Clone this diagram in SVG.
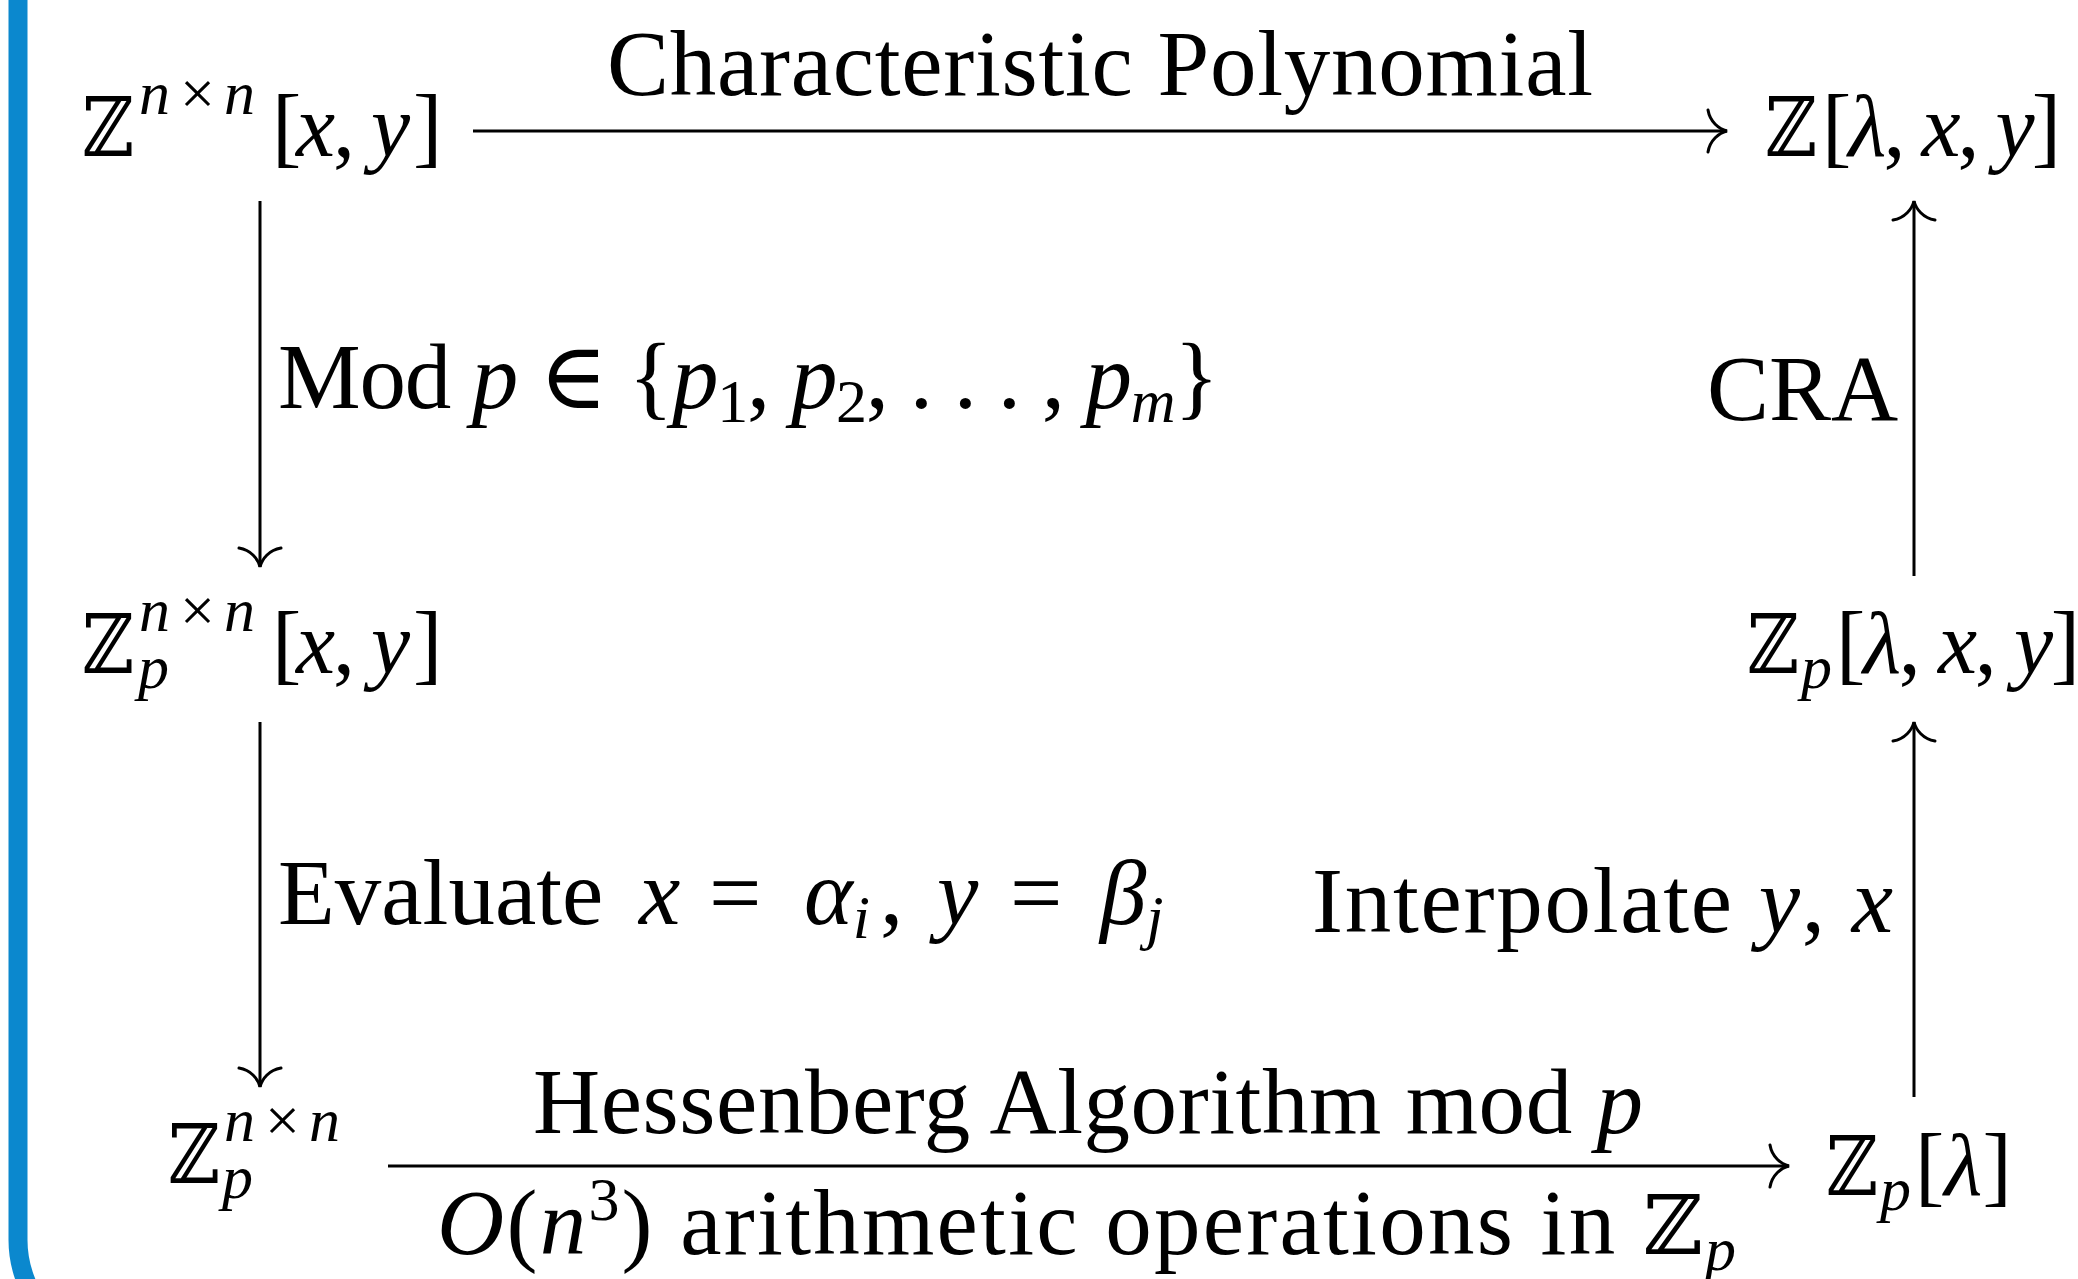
<svg xmlns="http://www.w3.org/2000/svg" width="2078" height="1279" viewBox="0 0 2078 1279">
<style>
  text { font-family: "Liberation Serif", "DejaVu Serif", serif; fill: #000; }
  .m { font-size: 88px; }
  .lb { font-size: 93px; }
  .sc { font-size: 62px; }
  .it { font-style: italic; }
  .bb { font-family: "DejaVu Serif", "DejaVu Sans", serif; font-size: 82px; }
  .edge { stroke: #000; stroke-width: 3; fill: none; }
</style>
<defs>
  <marker id="to" viewBox="-26 -28 32 56" refX="0" refY="0" markerWidth="32" markerHeight="56" markerUnits="userSpaceOnUse" orient="auto">
    <path d="M-19,-21 C-17,-9 -8,-2 0,0 C-8,2 -17,9 -19,21" fill="none" stroke="#000" stroke-width="3" stroke-linecap="round"/>
  </marker>
</defs>
<rect x="0" y="0" width="2078" height="1279" fill="#fff"/>
<path d="M18,-20 L18,1240 A110 110 0 0 0 128 1350" fill="none" stroke="#0B88CE" stroke-width="19"/>

<g id="connectors">
  <line class="edge" x1="473" y1="131" x2="1727" y2="131" marker-end="url(#to)"/>
  <line class="edge" x1="260" y1="201" x2="260" y2="567" marker-end="url(#to)"/>
  <line class="edge" x1="1914" y1="576" x2="1914" y2="201" marker-end="url(#to)"/>
  <line class="edge" x1="260" y1="722" x2="260" y2="1087" marker-end="url(#to)"/>
  <line class="edge" x1="1914" y1="1097" x2="1914" y2="722" marker-end="url(#to)"/>
  <line class="edge" x1="388" y1="1166" x2="1789" y2="1166" marker-end="url(#to)"/>
  <text class="lb" x="1100" y="95" text-anchor="middle" textLength="986">Characteristic Polynomial</text>
  <text class="lb" x="278" y="408" textLength="941">Mod <tspan class="it">p</tspan> ∈ {<tspan class="it">p</tspan><tspan class="sc" dy="14">1</tspan><tspan dy="-14">, </tspan><tspan class="it">p</tspan><tspan class="sc" dy="14">2</tspan><tspan dy="-14">, . . . , </tspan><tspan class="it">p</tspan><tspan class="sc it" dy="14">m</tspan><tspan dy="-14">}</tspan></text>
  <text class="lb" x="1707" y="420">CRA</text>
  <text class="lb" y="924"><tspan x="278">Evaluate</tspan><tspan class="it" x="639">x</tspan><tspan x="709">=</tspan><tspan class="it" x="804">α</tspan><tspan class="sc it" dy="14">i</tspan><tspan x="880" dy="-14">,</tspan><tspan class="it" x="937">y</tspan><tspan x="1010">=</tspan><tspan class="it" x="1100">β</tspan><tspan class="sc it" dy="14">j</tspan></text>
  <text class="lb" x="1312" y="932" textLength="581">Interpolate <tspan class="it">y</tspan>, <tspan class="it">x</tspan></text>
  <text class="lb" x="1088" y="1133" text-anchor="middle" textLength="1110">Hessenberg Algorithm mod <tspan class="it">p</tspan></text>
  <text class="lb" x="437" y="1254" textLength="1299"><tspan class="it">O</tspan>(<tspan class="it">n</tspan><tspan class="sc" dy="-34">3</tspan><tspan dy="34">) arithmetic operations in </tspan><tspan class="bb" font-size="93">ℤ</tspan><tspan class="sc it" dy="16">p</tspan></text>
</g>

<g id="n-top-left">
  <text class="bb" x="82" y="156" textLength="52" lengthAdjust="spacingAndGlyphs">ℤ</text>
  <text class="sc" y="114"><tspan class="it" x="139">n</tspan><tspan x="180">×</tspan><tspan class="it" x="224">n</tspan></text>
  <text class="m" y="156"><tspan x="272">[</tspan><tspan class="it" x="296">x</tspan><tspan x="333">,</tspan><tspan class="it" x="371">y</tspan><tspan x="413">]</tspan></text>
</g>

<g id="n-top-right">
  <text class="bb" x="1765" y="156" textLength="52" lengthAdjust="spacingAndGlyphs">ℤ</text>
  <text class="m" x="1822" y="156" textLength="239">[<tspan class="it">λ</tspan>, <tspan class="it">x</tspan>, <tspan class="it">y</tspan>]</text>
</g>

<g id="n-mid-left">
  <text class="bb" x="82" y="673" textLength="52" lengthAdjust="spacingAndGlyphs">ℤ</text>
  <text class="sc" y="631"><tspan class="it" x="139">n</tspan><tspan x="180">×</tspan><tspan class="it" x="224">n</tspan></text>
  <text class="sc it" x="138" y="688">p</text>
  <text class="m" y="673"><tspan x="272">[</tspan><tspan class="it" x="296">x</tspan><tspan x="333">,</tspan><tspan class="it" x="371">y</tspan><tspan x="413">]</tspan></text>
</g>

<g id="n-mid-right">
  <text class="bb" x="1747" y="673" textLength="52" lengthAdjust="spacingAndGlyphs">ℤ</text>
  <text class="sc it" x="1801" y="688">p</text>
  <text class="m" x="1836" y="673" textLength="244">[<tspan class="it">λ</tspan>, <tspan class="it">x</tspan>, <tspan class="it">y</tspan>]</text>
</g>

<g id="n-bottom-left">
  <text class="bb" x="168" y="1183" textLength="52" lengthAdjust="spacingAndGlyphs">ℤ</text>
  <text class="sc" y="1141"><tspan class="it" x="224">n</tspan><tspan x="265">×</tspan><tspan class="it" x="309">n</tspan></text>
  <text class="sc it" x="222" y="1198">p</text>
</g>

<g id="n-bottom-right">
  <text class="bb" x="1826" y="1195" textLength="52" lengthAdjust="spacingAndGlyphs">ℤ</text>
  <text class="sc it" x="1880" y="1210">p</text>
  <text class="m" x="1915" y="1195">[<tspan class="it">λ</tspan>]</text>
</g>
</svg>
